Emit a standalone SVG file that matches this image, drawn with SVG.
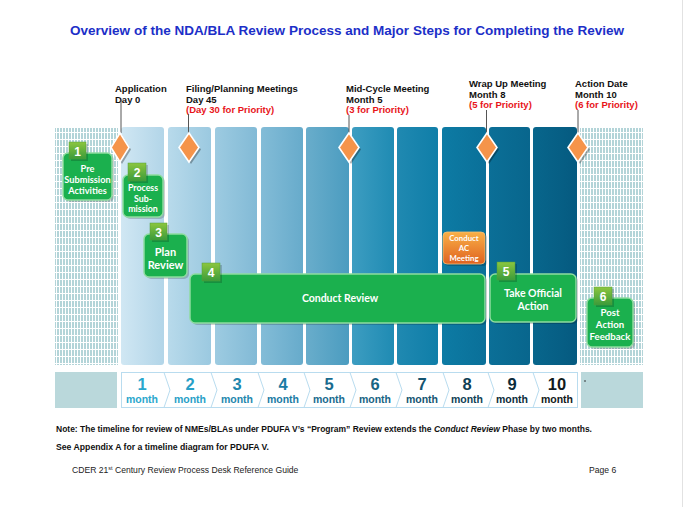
<svg xmlns="http://www.w3.org/2000/svg" width="690" height="507" viewBox="0 0 690 507">
<defs>
<style>
.lbl{font-family:"Liberation Sans",Arial,sans-serif;font-weight:bold;font-size:9.5px;fill:#111}
.red{fill:#e8141a}
.nt{font-family:Lato,"Open Sans",sans-serif;font-weight:bold;fill:#fff;text-anchor:middle}
.box{fill:#1bb04e;stroke:#8fdca0;stroke-width:1.5}
.badge{fill:url(#gbadge);stroke:#4f9f3e;stroke-width:0.5}
.num{font-family:"Liberation Sans",Arial,sans-serif;font-weight:bold;font-size:12px;fill:#fff;text-anchor:middle}
.mn{font-family:"Liberation Sans",Arial,sans-serif;font-weight:bold;text-anchor:middle}
.mnum{font-size:16.5px}
.mw{font-size:10.5px}
.dia{fill:#f5944a;stroke:#fff;stroke-width:1.6}
.dsh{fill:#000;opacity:0.3}
.tick{stroke:#555;stroke-width:1}
.shadow{fill:#000;opacity:0.18}
</style>
<linearGradient id="gbadge" x1="0" y1="0" x2="0" y2="1"><stop offset="0" stop-color="#8cc63f"/><stop offset="1" stop-color="#3b9b3a"/></linearGradient>
<linearGradient id="gac" x1="0" y1="0" x2="0" y2="1"><stop offset="0" stop-color="#f9b047"/><stop offset="1" stop-color="#df6220"/></linearGradient>
<linearGradient id="c1" x1="0" x2="1"><stop offset="0" stop-color="#d0e7f3"/><stop offset="1" stop-color="#b2d5e8"/></linearGradient>
<linearGradient id="c2" x1="0" x2="1"><stop offset="0" stop-color="#b8daeb"/><stop offset="1" stop-color="#9bc9e0"/></linearGradient>
<linearGradient id="c3" x1="0" x2="1"><stop offset="0" stop-color="#9dcbe1"/><stop offset="1" stop-color="#82bad6"/></linearGradient>
<linearGradient id="c4" x1="0" x2="1"><stop offset="0" stop-color="#83bcd7"/><stop offset="1" stop-color="#67abcb"/></linearGradient>
<linearGradient id="c5" x1="0" x2="1"><stop offset="0" stop-color="#69adcb"/><stop offset="1" stop-color="#4b9cc0"/></linearGradient>
<linearGradient id="c6" x1="0" x2="1"><stop offset="0" stop-color="#3d9dc1"/><stop offset="1" stop-color="#1f8bb3"/></linearGradient>
<linearGradient id="c7" x1="0" x2="1"><stop offset="0" stop-color="#2089b1"/><stop offset="1" stop-color="#0f7ea8"/></linearGradient>
<linearGradient id="c8" x1="0" x2="1"><stop offset="0" stop-color="#0d7ba4"/><stop offset="1" stop-color="#0a7099"/></linearGradient>
<linearGradient id="c9" x1="0" x2="1"><stop offset="0" stop-color="#0b6f97"/><stop offset="1" stop-color="#08668d"/></linearGradient>
<linearGradient id="c10" x1="0" x2="1"><stop offset="0" stop-color="#08668c"/><stop offset="1" stop-color="#055a80"/></linearGradient>
<pattern id="hatch" width="3" height="7" patternUnits="userSpaceOnUse">
<rect width="3" height="7" fill="#ffffff"/>
<rect x="0" y="0" width="2" height="6" fill="#b3d4d8"/>
</pattern>
</defs>
<rect width="690" height="507" fill="#fff"/>
<line x1="682.5" y1="0" x2="682.5" y2="507" stroke="#e2e2e2" stroke-width="1"/>

<text x="70" y="35" font-family="'Liberation Sans',Arial,sans-serif" font-weight="bold" font-size="13" fill="#1c2fc8" textLength="554" lengthAdjust="spacingAndGlyphs">Overview of the NDA/BLA Review Process and Major Steps for Completing the Review</text>

<g id="timeline-background">
<rect x="55" y="128" width="63" height="237" fill="url(#hatch)"/>
<rect x="580" y="128" width="63" height="237" fill="url(#hatch)"/>
<rect x="121" y="127" width="43" height="238" rx="3" fill="url(#c1)"/>
<rect x="168" y="127" width="43" height="238" rx="3" fill="url(#c2)"/>
<rect x="215" y="127" width="42" height="238" rx="3" fill="url(#c3)"/>
<rect x="261" y="127" width="42" height="238" rx="3" fill="url(#c4)"/>
<rect x="306" y="127" width="43" height="238" rx="3" fill="url(#c5)"/>
<rect x="352" y="127" width="42" height="238" rx="3" fill="url(#c6)"/>
<rect x="397" y="127" width="41" height="238" rx="3" fill="url(#c7)"/>
<rect x="442" y="127" width="44" height="238" rx="3" fill="url(#c8)"/>
<rect x="489" y="127" width="41" height="238" rx="3" fill="url(#c9)"/>
<rect x="533" y="127" width="44" height="238" rx="3" fill="url(#c10)"/>
</g>

<g id="milestones">
<text class="lbl" x="115" y="92">Application</text>
<text class="lbl" x="115" y="102.5">Day 0</text>
<text class="lbl" x="186" y="92">Filing/Planning Meetings</text>
<text class="lbl" x="186" y="102.5">Day 45</text>
<text class="lbl red" x="186" y="113">(Day 30 for Priority)</text>
<text class="lbl" x="346" y="92">Mid-Cycle Meeting</text>
<text class="lbl" x="346" y="102.5">Month 5</text>
<text class="lbl red" x="346" y="113">(3 for Priority)</text>
<text class="lbl" x="469" y="87">Wrap Up Meeting</text>
<text class="lbl" x="469" y="97.5">Month 8</text>
<text class="lbl red" x="469" y="108">(5 for Priority)</text>
<text class="lbl" x="575" y="87">Action Date</text>
<text class="lbl" x="575" y="97.5">Month 10</text>
<text class="lbl red" x="575" y="108">(6 for Priority)</text>
</g>

<g id="connectors">
<line class="tick" x1="121" y1="100" x2="121" y2="133"/>
<line class="tick" x1="188.5" y1="114" x2="188.5" y2="133"/>
<line class="tick" x1="349" y1="115" x2="349" y2="133"/>
<line class="tick" x1="486.5" y1="110" x2="486.5" y2="133"/>
<line class="tick" x1="578" y1="110" x2="578" y2="133"/>
</g>

<g id="diamonds">
<polygon class="dsh" points="122,135 131,149.5 122,164 113,149.5"/>
<polygon class="dia" points="120,133 129,147.5 120,162 111,147.5"/>
<polygon class="dsh" points="191,135 201,149.5 191,164 181,149.5"/>
<polygon class="dia" points="189,133 199,147.5 189,162 179,147.5"/>
<polygon class="dsh" points="351,135 361,149.5 351,164 341,149.5"/>
<polygon class="dia" points="349,133 359,147.5 349,162 339,147.5"/>
<polygon class="dsh" points="489,135 499,149.5 489,164 479,149.5"/>
<polygon class="dia" points="487,133 497,147.5 487,162 477,147.5"/>
<polygon class="dsh" points="580,135 590,149.5 580,164 570,149.5"/>
<polygon class="dia" points="578,133 588,147.5 578,162 568,147.5"/>
</g>

<g id="node1">
<rect class="shadow" x="65" y="155" width="49" height="47" rx="5"/>
<rect class="box" x="63" y="153" width="49" height="47" rx="5"/>
<rect class="shadow" x="71" y="144" width="17" height="17"/>
<rect class="badge" x="69" y="142" width="17" height="17"/>
<text class="num" x="77.5" y="155.5">1</text>
<text class="nt" font-size="9.2" x="87.5" y="171.5">Pre</text>
<text class="nt" font-size="9.2" x="87.5" y="182.5">Submission</text>
<text class="nt" font-size="9.2" x="87.5" y="193.5">Activities</text>
</g>

<g id="node2">
<rect class="shadow" x="125" y="177" width="40" height="42" rx="5"/>
<rect class="box" x="123" y="175" width="40" height="42" rx="5"/>
<rect class="shadow" x="130" y="165" width="18" height="18"/>
<rect class="badge" x="128" y="163" width="18" height="18"/>
<text class="num" x="137" y="177">2</text>
<text class="nt" font-size="8.8" x="143" y="191">Process</text>
<text class="nt" font-size="8.8" x="143" y="201.5">Sub-</text>
<text class="nt" font-size="8.8" x="143" y="212">mission</text>
</g>

<g id="node3">
<rect class="shadow" x="146" y="236" width="43" height="43" rx="5"/>
<rect class="box" x="144" y="234" width="43" height="43" rx="5"/>
<rect class="shadow" x="152" y="225" width="17" height="17"/>
<rect class="badge" x="150" y="223" width="17" height="17"/>
<text class="num" x="158.5" y="236.5">3</text>
<text class="nt" font-size="11" x="165.5" y="256">Plan</text>
<text class="nt" font-size="11" x="165.5" y="269">Review</text>
</g>

<g id="node4">
<rect class="shadow" x="192" y="276" width="295" height="49" rx="5"/>
<rect class="box" x="190" y="274" width="295" height="49" rx="5"/>
<rect class="shadow" x="204" y="265" width="18" height="18"/>
<rect class="badge" x="202" y="263" width="18" height="18"/>
<text class="num" x="211" y="277">4</text>
<text class="nt" font-size="10.5" x="340" y="302">Conduct Review</text>
</g>

<g id="nodeAC">
<rect class="shadow" x="445" y="234" width="42" height="32" rx="4"/>
<rect x="443" y="232" width="42" height="32" rx="4" fill="url(#gac)" stroke="#f3c07a" stroke-width="0.8"/>
<text class="nt" font-size="7.8" x="464" y="240.5">Conduct</text>
<text class="nt" font-size="7.8" x="464" y="250.5">AC</text>
<text class="nt" font-size="7.8" x="464" y="260.5">Meeting</text>
</g>

<g id="node5">
<rect class="shadow" x="492" y="276" width="86" height="48" rx="5"/>
<rect class="box" x="490" y="274" width="86" height="48" rx="5"/>
<rect class="shadow" x="499" y="264" width="18" height="18"/>
<rect class="badge" x="497" y="262" width="18" height="18"/>
<text class="num" x="506" y="276">5</text>
<text class="nt" font-size="10.5" x="533" y="297">Take Official</text>
<text class="nt" font-size="10.5" x="533" y="310">Action</text>
</g>

<g id="node6">
<rect class="shadow" x="589" y="300" width="46" height="49" rx="5"/>
<rect class="box" x="587" y="298" width="46" height="49" rx="5"/>
<rect class="shadow" x="596" y="289" width="18" height="18"/>
<rect class="badge" x="594" y="287" width="18" height="18"/>
<text class="num" x="603" y="301">6</text>
<text class="nt" font-size="9.6" x="610" y="315.5">Post</text>
<text class="nt" font-size="9.6" x="610" y="327.5">Action</text>
<text class="nt" font-size="9.6" x="610" y="340">Feedback</text>
</g>

<g id="month-row">
<rect x="55" y="372" width="62" height="36" fill="#bad8db"/>
<rect x="581" y="372" width="62" height="36" fill="#bad8db"/>
<circle cx="585" cy="381" r="0.8" fill="#222"/>
<rect x="121.5" y="372.5" width="456" height="35" fill="#fff" stroke="#b9dcef" stroke-width="1"/>
<g fill="none" stroke="#b9dcef" stroke-width="1">
<polyline points="164,372.5 170,390 164,407.5"/>
<polyline points="211,372.5 217,390 211,407.5"/>
<polyline points="258,372.5 264,390 258,407.5"/>
<polyline points="304,372.5 310,390 304,407.5"/>
<polyline points="350,372.5 356,390 350,407.5"/>
<polyline points="396,372.5 402,390 396,407.5"/>
<polyline points="443,372.5 449,390 443,407.5"/>
<polyline points="488,372.5 494,390 488,407.5"/>
<polyline points="533,372.5 539,390 533,407.5"/>
</g>
<g class="mn">
<text class="mnum" x="142" y="390" fill="#2aa7cd">1</text><text class="mw" x="142" y="403" fill="#2aa7cd">month</text>
<text class="mnum" x="190" y="390" fill="#28a0c7">2</text><text class="mw" x="190" y="403" fill="#28a0c7">month</text>
<text class="mnum" x="237" y="390" fill="#1e87ae">3</text><text class="mw" x="237" y="403" fill="#1e87ae">month</text>
<text class="mnum" x="283" y="390" fill="#1a7ba4">4</text><text class="mw" x="283" y="403" fill="#1a7ba4">month</text>
<text class="mnum" x="329" y="390" fill="#196b8f">5</text><text class="mw" x="329" y="403" fill="#196b8f">month</text>
<text class="mnum" x="375" y="390" fill="#176484">6</text><text class="mw" x="375" y="403" fill="#176484">month</text>
<text class="mnum" x="422" y="390" fill="#135471">7</text><text class="mw" x="422" y="403" fill="#135471">month</text>
<text class="mnum" x="467" y="390" fill="#0f3f56">8</text><text class="mw" x="467" y="403" fill="#0f3f56">month</text>
<text class="mnum" x="512" y="390" fill="#0b2c3b">9</text><text class="mw" x="512" y="403" fill="#0b2c3b">month</text>
<text class="mnum" x="557" y="390" fill="#111a20">10</text><text class="mw" x="557" y="403" fill="#111a20">month</text>
</g>
</g>

<g id="notes" font-family="'Liberation Sans',Arial,sans-serif" font-weight="bold" font-size="8.6" fill="#111">
<text x="56" y="432" textLength="536" lengthAdjust="spacingAndGlyphs">Note: The timeline for review of NMEs/BLAs under PDUFA V’s “Program” Review extends the <tspan font-style="italic">Conduct Review</tspan> Phase by two months.</text>
<text x="56" y="450" textLength="213" lengthAdjust="spacingAndGlyphs">See Appendix A for a timeline diagram for PDUFA V.</text>
</g>

<g id="footer" font-family="'Liberation Sans',Arial,sans-serif" font-size="8.6" fill="#222">
<text x="72" y="473">CDER 21<tspan font-size="5.5" dy="-3.5">st</tspan><tspan dy="3.5"> Century Review Process Desk Reference Guide</tspan></text>
<text x="589" y="473">Page 6</text>
</g>
</svg>
